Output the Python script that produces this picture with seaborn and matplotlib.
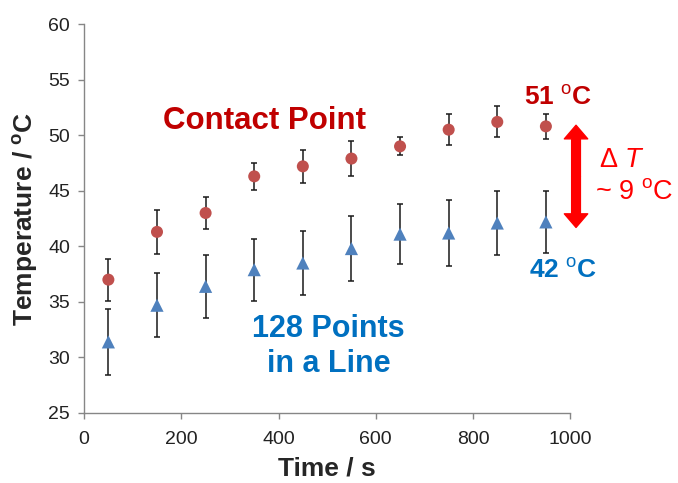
import numpy as np
import pandas as pd
import matplotlib
matplotlib.use('Agg')
import matplotlib.pyplot as plt
import seaborn as sns

time_s = [50, 150, 250, 350, 450, 550, 650, 750, 850, 950]
contact_temp = [37.0, 41.3, 43.0, 46.3, 47.2, 47.9, 49.0, 50.5, 51.2, 50.8]
contact_err = [1.9, 2.0, 1.4, 1.2, 1.5, 1.6, 0.8, 1.4, 1.4, 1.1]
line_temp = [31.4, 34.7, 36.4, 37.9, 38.5, 39.8, 41.1, 41.2, 42.1, 42.2]
line_err = [3.0, 2.9, 2.85, 2.8, 2.85, 2.9, 2.7, 3.0, 2.85, 2.8]

RED_PT = '#C0504D'
BLUE_PT = '#4F81BD'
DARK_RED = '#C00000'
BLUE_TXT = '#0070C0'
BRIGHT_RED = '#FF0000'

sns.set_style('white')
plt.rcParams['font.family'] = ['Liberation Sans', 'DejaVu Sans']
plt.rcParams['mathtext.fontset'] = 'custom'
plt.rcParams['mathtext.rm'] = 'Liberation Sans'
plt.rcParams['mathtext.it'] = 'Liberation Sans:italic'
plt.rcParams['mathtext.bf'] = 'Liberation Sans:bold'

contact_df = pd.DataFrame({'time': time_s, 'temp': contact_temp})
line_df = pd.DataFrame({'time': time_s, 'temp': line_temp})

fig = plt.figure(figsize=(6.78, 4.83), dpi=100)
ax = fig.add_axes([0.124, 0.145, 0.717, 0.805])

ax.errorbar(time_s, contact_temp, yerr=contact_err, fmt='none', ecolor='#1a1a1a',
            elinewidth=1.1, capsize=2.4, capthick=1.1, zorder=2)
ax.errorbar(time_s, line_temp, yerr=line_err, fmt='none', ecolor='#1a1a1a',
            elinewidth=1.1, capsize=2.4, capthick=1.1, zorder=2)

sns.scatterplot(data=contact_df, x='time', y='temp', color=RED_PT, marker='o',
                s=75, edgecolor='none', ax=ax, zorder=3)
sns.scatterplot(data=line_df, x='time', y='temp', color=BLUE_PT, marker='^',
                s=90, edgecolor='none', ax=ax, zorder=3)

ax.set_xlim(0, 1000)
ax.set_ylim(25, 60)
ax.set_xticks(range(0, 1001, 200))
ax.set_yticks(range(25, 61, 5))
ax.tick_params(axis='both', labelsize=14, length=4, width=1, color='#868686',
               direction='out', left=True, bottom=True, labelcolor='#222222')
ax.tick_params(axis='y', pad=6)
ax.tick_params(axis='x', pad=9)
for side in ['top', 'right']:
    ax.spines[side].set_visible(False)
for side in ['left', 'bottom']:
    ax.spines[side].set_color('#868686')
    ax.spines[side].set_linewidth(1)

ax.set_xlabel('Time / s', fontsize=19, fontweight='bold', labelpad=6)
ax.set_ylabel(r'Temperature / $^{\mathbf{o}}$C', fontsize=19, fontweight='bold', labelpad=6)

ax.text(162, 51.3, 'Contact Point', color=DARK_RED, fontsize=22.5, fontweight='bold',
        ha='left', va='center')
ax.text(503, 31.0, '128 Points\nin a Line', color=BLUE_TXT, fontsize=22, fontweight='bold',
        ha='center', va='center', linespacing=1.2)
ax.text(975, 53.4, r'51 $^{\mathrm{o}}$C', color=DARK_RED, fontsize=19, fontweight='bold',
        ha='center', va='center', clip_on=False)
ax.text(985, 37.8, r'42 $^{\mathrm{o}}$C', color=BLUE_TXT, fontsize=19, fontweight='bold',
        ha='center', va='center', clip_on=False)
ax.text(1060, 47.8, r'$\Delta$ $\mathit{T}$', color=BRIGHT_RED, fontsize=19.5,
        ha='left', va='center', clip_on=False)
ax.text(1052, 44.9, r'~ 9 $^{\mathrm{o}}$C', color=BRIGHT_RED, fontsize=19.5,
        ha='left', va='center', clip_on=False)

mid = (50.9 + 41.7) / 2
for end in (50.9, 41.7):
    ax.annotate('', xy=(1012, end), xytext=(1012, mid), annotation_clip=False,
                arrowprops=dict(arrowstyle='simple,head_length=0.7,head_width=1.2,tail_width=0.45',
                                color=BRIGHT_RED, shrinkA=0, shrinkB=0, mutation_scale=14))

fig.savefig('out.png', dpi=100)
